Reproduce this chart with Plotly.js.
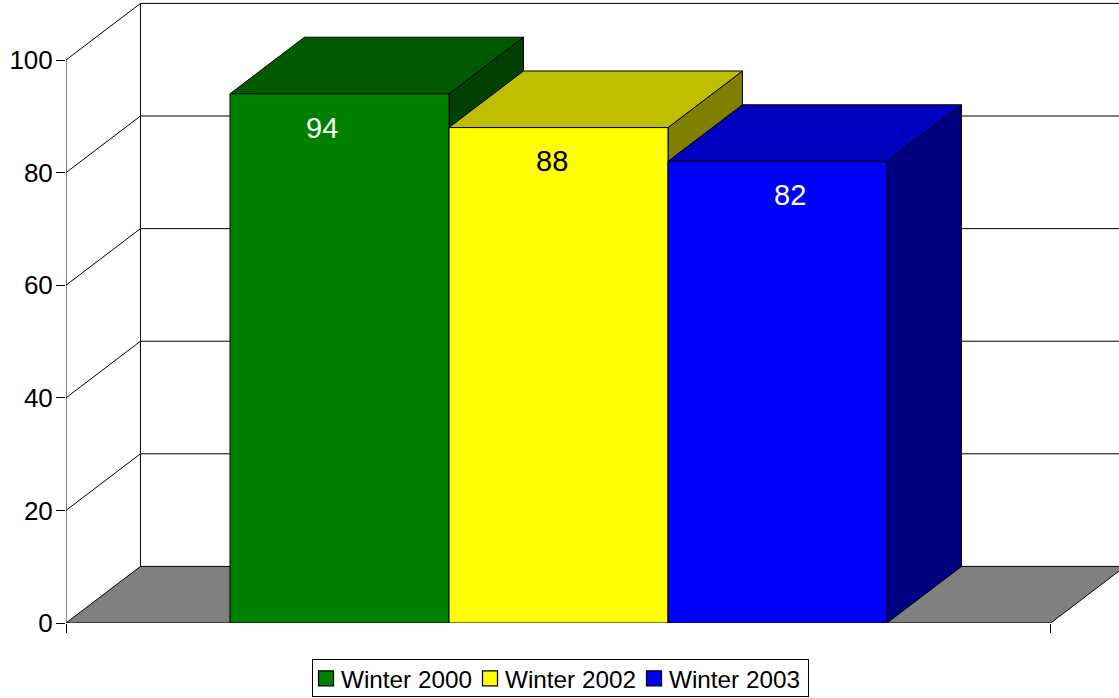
<!DOCTYPE html>
<html>
<head>
<meta charset="utf-8">
<script src="https://cdn.plot.ly/plotly-3.0.1.min.js"></script>
<style>
html,body{margin:0;padding:0;background:#fff;overflow:hidden}
#chart{width:1119px;height:698px}
.legend .legendpoints path{transform:translate(13px,0px) scale(1.25)}
.legend .legendtext{transform:translateX(-12px)}
.legend rect.bg{width:496px;height:37px;transform:translateY(4px)}
</style>
</head>
<body>
<div id="chart"></div>
<script>
const seriesNames = ['Winter 2000', 'Winter 2002', 'Winter 2003'];
const seriesValues = [94, 88, 82];
const frontColors = ['#008000', '#ffff00', '#0000ff'];
const topColors = ['#005a00', '#bfbf00', '#0000bf'];
const sideColors = ['#004000', '#808000', '#000080'];
const labelColors = ['#ffffff', '#000000', '#ffffff'];
const labelShift = [-0.08, -0.03, 0.055];
const yTicks = [0, 20, 40, 60, 80, 100];

const depthX = 0.34, depthY = 10.05;
const xMin = -1.2489, xMax = 3.5594, xFloorEnd = 3.2475;
const yMax = 110.66;
const edge = {color: '#000000', width: 1};

function poly(xs, ys, fill) {
  return {type: 'scatter', mode: 'lines', x: xs, y: ys, fill: 'toself', fillcolor: fill,
    line: edge, showlegend: false, hoverinfo: 'skip', cliponaxis: false};
}
function path(xs, ys) {
  return {type: 'scatter', mode: 'lines', x: xs, y: ys, line: edge,
    showlegend: false, hoverinfo: 'skip', cliponaxis: false};
}

const traces = [];
// walls and gridlines
yTicks.slice(1).forEach(v => {
  traces.push(path([xMin, xMin + depthX, xFloorEnd + depthX], [v, v + depthY, v + depthY]));
});
traces.push(path([xMin + depthX, xMin + depthX], [depthY, 100 + depthY]));
traces.push(path([xMin, xMin], [0, 100]));
// floor
traces.push(poly(
  [xMin, xMin + depthX, xFloorEnd + depthX, xFloorEnd, xMin],
  [0, depthY, depthY, 0, 0], '#808080'));
// side and top faces, back to front
seriesValues.forEach((v, i) => {
  const r = i + 0.5, l = i - 0.5;
  traces.push(poly([r, r + depthX, r + depthX, r, r], [0, depthY, v + depthY, v, 0], sideColors[i]));
  traces.push(poly([l, l + depthX, r + depthX, r, l], [v, v + depthY, v + depthY, v, v], topColors[i]));
});
// front faces, on the overlay subplot
seriesValues.forEach((v, i) => {
  traces.push({type: 'bar', name: seriesNames[i], x: [i], y: [v], width: 1, xaxis: 'x2', yaxis: 'y2',
    marker: {color: frontColors[i], line: edge}, cliponaxis: false, hoverinfo: 'name+y'});
});

const layout = {
  width: 1119, height: 698,
  margin: {l: 66, r: 0, t: 0, b: 75, pad: 0},
  paper_bgcolor: '#ffffff', plot_bgcolor: 'rgba(0,0,0,0)',
  font: {family: '"Liberation Sans", Arial, sans-serif', color: '#000000', size: 24},
  barmode: 'overlay',
  xaxis: {range: [xMin, xMax], tickmode: 'array', tickvals: [xMin, xFloorEnd], ticktext: ['', ''],
    ticks: 'outside', ticklen: 9, tickwidth: 1, tickcolor: '#000000',
    showgrid: false, zeroline: false, showline: false, fixedrange: true},
  yaxis: {range: [0, yMax], tickmode: 'array', tickvals: yTicks, ticktext: yTicks.map(String),
    ticks: 'outside', ticklen: 9, tickwidth: 1, tickcolor: '#000000', tickfont: {size: 26},
    ticklabelstandoff: -2,
    showgrid: false, zeroline: false, showline: false, fixedrange: true},
  xaxis2: {range: [xMin, xMax], overlaying: 'x', anchor: 'y2', visible: false, fixedrange: true},
  yaxis2: {range: [0, yMax], overlaying: 'y', anchor: 'x2', visible: false, fixedrange: true},
  legend: {orientation: 'h', xref: 'container', yref: 'container', x: 312 / 1119, xanchor: 'left',
    y: 1 - 655 / 698, yanchor: 'top',
    bordercolor: '#000000', borderwidth: 1, bgcolor: '#ffffff',
    font: {size: 24.3}, entrywidth: 119, entrywidthmode: 'pixels', itemclick: false, itemdoubleclick: false,
    tracegroupgap: 0},
  annotations: seriesValues.map((v, i) => ({
    xref: 'x2', yref: 'y2', x: i + labelShift[i], y: v - 6, text: String(v), showarrow: false,
    xanchor: 'center', yanchor: 'middle', font: {size: 29, color: labelColors[i]}
  }))
};
Plotly.newPlot('chart', traces, layout, {displayModeBar: false, staticPlot: false});
</script>
</body>
</html>
